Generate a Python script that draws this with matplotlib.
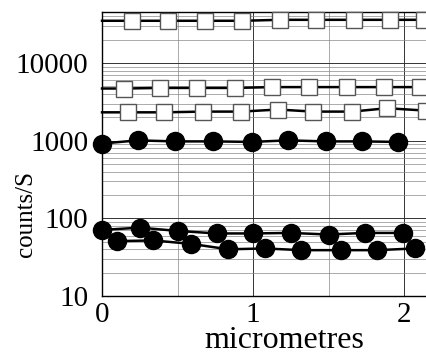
import numpy as np
import matplotlib
matplotlib.use("Agg")
import matplotlib.pyplot as plt
from matplotlib.ticker import LogLocator, NullFormatter

plt.rcParams['font.family'] = ['Liberation Serif', 'DejaVu Serif']

# --- data (x in micrometres, y in counts/S) ---
# square series: first point at x=0 only starts the line, no marker there
sq_top_x = [0.0, 0.20, 0.435, 0.68, 0.93, 1.18, 1.42, 1.67, 1.91, 2.13]
sq_top_y = [35000, 35000, 35000, 35000, 35000, 36000, 36000, 36000, 36000, 36000]

sq_mid_x = [0.0, 0.148, 0.384, 0.629, 0.878, 1.126, 1.371, 1.623, 1.868, 2.106]
sq_mid_y = [4700, 4700, 4780, 4780, 4780, 4900, 4900, 4900, 4900, 4900]

sq_low_x = [0.0, 0.174, 0.411, 0.669, 0.921, 1.166, 1.397, 1.656, 1.887, 2.146]
sq_low_y = [2320, 2320, 2320, 2370, 2370, 2520, 2370, 2370, 2620, 2440]

circ_k_x = [0.0, 0.236, 0.48, 0.735, 0.99, 1.23, 1.48, 1.72, 1.96]
circ_k_y = [920, 1010, 980, 980, 965, 1010, 980, 980, 965]

circ_a_x = [0.0, 0.25, 0.50, 0.76, 1.00, 1.25, 1.50, 1.74, 1.99]
circ_a_y = [71, 76, 69, 64, 64, 65, 62, 65, 65]

circ_b_x = [0.097, 0.34, 0.59, 0.835, 1.08, 1.32, 1.58, 1.82, 2.07]
circ_b_y = [51, 52, 47, 40, 41, 39, 39, 39, 41]

fig = plt.figure(figsize=(4.27, 3.55), dpi=100)
ax = fig.add_axes([0.239, 0.166, 0.761, 0.800])

for xs, ys in [(sq_top_x, sq_top_y), (sq_mid_x, sq_mid_y), (sq_low_x, sq_low_y)]:
    ax.plot(xs, ys, color='black', lw=1.8, marker='s', markersize=11,
            markerfacecolor='white', markeredgecolor='#555555', markeredgewidth=1.0,
            markevery=list(range(1, len(xs))), clip_on=False, zorder=3)

for xs, ys in [(circ_k_x, circ_k_y), (circ_a_x, circ_a_y), (circ_b_x, circ_b_y)]:
    ax.plot(xs, ys, color='black', lw=1.8, marker='o', markersize=13,
            markerfacecolor='black', markeredgecolor='black', clip_on=False, zorder=4)

ax.set_yscale('log')
ax.set_xlim(0, 2.152)
ax.set_ylim(10, 45300)
ax.set_xticks([0, 1, 2])
ax.set_xticks([0.5, 1.5], minor=True)
ax.set_yticks([10, 100, 1000, 10000])
ax.set_yticklabels(['10', '100', '1000', '10000'])
ax.yaxis.set_minor_locator(LogLocator(base=10, subs=range(2, 10)))
ax.yaxis.set_minor_formatter(NullFormatter())

ax.grid(True, which='major', color='#333333', lw=0.7)
ax.grid(True, which='minor', color='#888888', lw=0.5)
ax.set_axisbelow(True)

ax.tick_params(which='both', length=0)
ax.tick_params(axis='y', labelsize=21, pad=10)
ax.tick_params(axis='x', labelsize=21, pad=4)

for s in ['left', 'bottom', 'top']:
    ax.spines[s].set_color('black')
    ax.spines[s].set_linewidth(1.0)
ax.spines['right'].set_visible(False)

ax.set_xlabel('micrometres', fontsize=23)
ax.xaxis.set_label_coords(0.56, -0.105)
ax.xaxis.label.set_va('top')
ax.set_ylabel('counts/S', fontsize=18)
ax.yaxis.set_label_coords(-0.20, 0.29)

fig.savefig('out.png', dpi=100, facecolor='white')
